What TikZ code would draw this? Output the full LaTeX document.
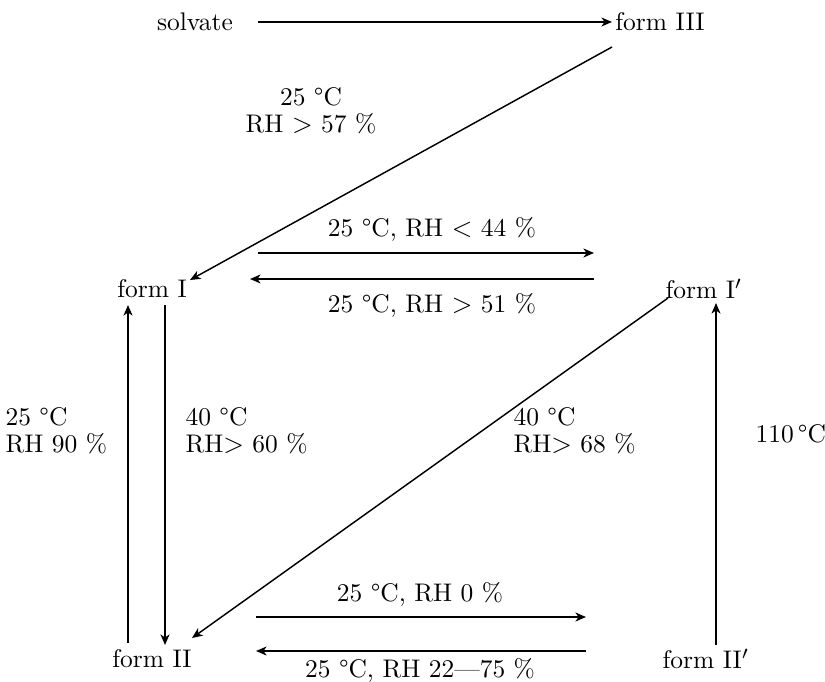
\documentclass[tikz,border=0pt]{standalone}
\usetikzlibrary{arrows.meta}
\begin{document}
\begin{tikzpicture}[x=0.377pt,y=-0.377pt,
  lbl/.style={inner sep=0pt,font=\fontsize{9.6}{10.2}\selectfont},
  frm/.style={inner sep=0pt,font=\fontsize{9.6}{12}\selectfont},
  arr/.style={line width=0.55pt,-{Stealth[length=4pt,width=3.4pt,inset=1.2pt]}}]
\useasboundingbox (0,0) rectangle (825,682);
% forms
\node[frm] (sol) at (195,22) {solvate};
\node[frm] (f3) at (660,22) {form III};
\node[frm] (f1) at (152,289) {form I};
\node[frm] (f1p) at (704,289) {form I$'$};
\node[frm] (f2) at (152,659) {form II};
\node[frm] (f2p) at (706,659) {form II$'$};
% connectors
\draw[arr] ([shift={(63,0)}]sol.center) -- ([shift={(-48,0)}]f3.center);
\draw[arr] ([shift={(-48,25)}]f3.center) -- ([shift={(38,-9)}]f1.center);
\draw[arr] ([shift={(106,-36)}]f1.center) -- ([shift={(-110,-36)}]f1p.center);
\draw[arr] ([shift={(-110,-10)}]f1p.center) -- ([shift={(98,-10)}]f1.center);
\draw[arr] ([shift={(104,-42)}]f2.center) -- ([shift={(-120,-42)}]f2p.center);
\draw[arr] ([shift={(-120,-8)}]f2p.center) -- ([shift={(104,-8)}]f2.center);
\draw[arr] ([shift={(-24,-16)}]f2.center) -- ([shift={(-24,16)}]f1.center);
\draw[arr] ([shift={(13,16)}]f1.center) -- ([shift={(13,-14)}]f2.center);
\draw[arr] ([shift={(-36,9)}]f1p.center) -- ([shift={(40,-21)}]f2.center);
\draw[arr] ([shift={(10,-14)}]f2p.center) -- ([shift={(12,14)}]f1p.center);
% labels
\node[lbl,align=center] (l1) at (311,111) {25~°C\\RH $>$ 57~\%};
\node[lbl] (l2) at (432,229) {25~°C, RH $<$ 44~\%};
\node[lbl] (l3) at (432,305) {25~°C, RH $>$ 51~\%};
\node[lbl,align=left,anchor=west] (l4) at (5,431) {25~°C\\RH 90~\%};
\node[lbl,align=left,anchor=west] (l5) at (185,431) {40~°C\\RH$>$ 60~\%};
\node[lbl,align=left,anchor=west] (l6) at (513,431) {40~°C\\RH$>$ 68~\%};
\node[lbl,anchor=west] (l7) at (755,434) {110\,°C};
\node[lbl] (l8) at (420,594) {25~°C, RH 0~\%};
\node[lbl] (l9) at (420,670) {25~°C, RH 22—75~\%};
\end{tikzpicture}
\end{document}
